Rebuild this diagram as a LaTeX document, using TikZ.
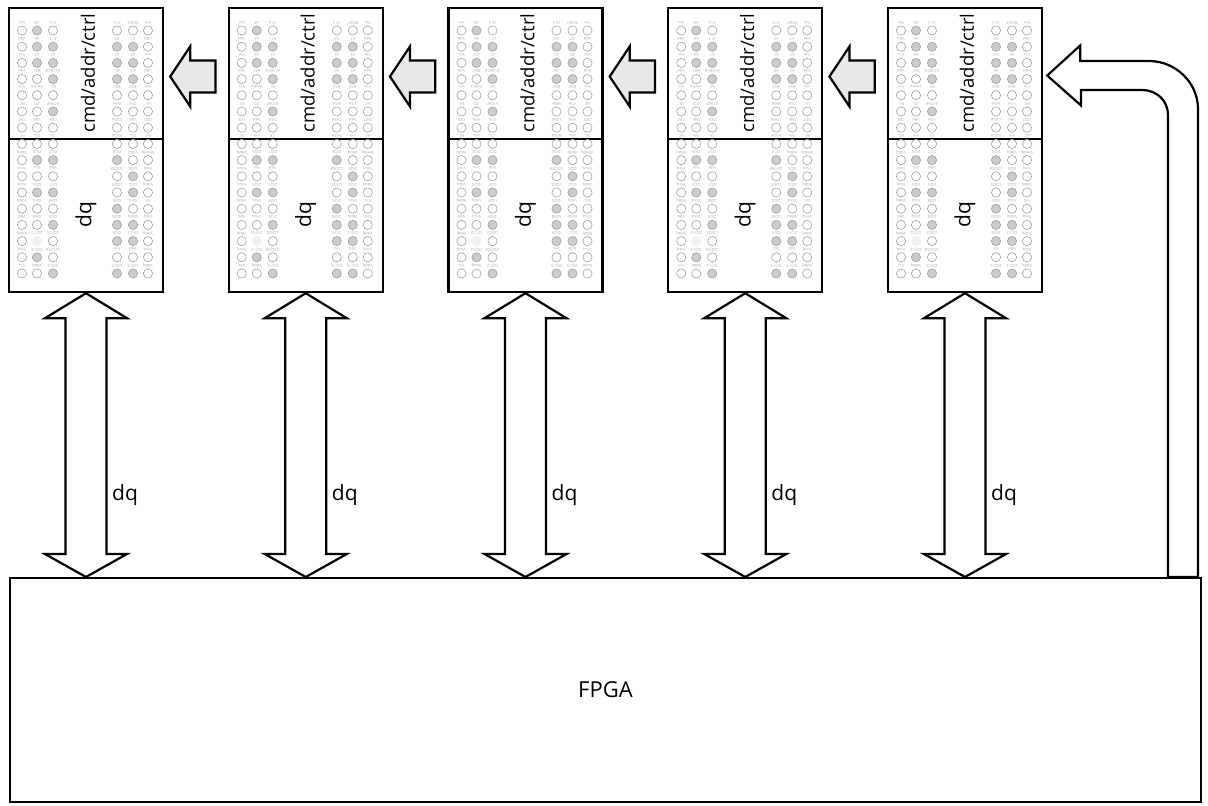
\documentclass[tikz,border=0pt]{standalone}
\usepackage{fontspec}
\setmainfont{Open Sans}
\usetikzlibrary{calc}

\tikzset{
  chipbox/.style={draw, line width=2.4pt, minimum width=154pt, minimum height=284pt, inner sep=0pt},
  fpgabox/.style={draw, line width=2pt, minimum width=1191pt, minimum height=224pt, inner sep=0pt, font=\fontsize{22}{26}\selectfont},
  pinlabel/.style={rotate=180, font=\fontsize{4}{4}\selectfont, text=gray!65, inner sep=0pt},
  bigtext/.style={font=\fontsize{18.5}{22}\selectfont, inner sep=0pt},
  dqtext/.style={font=\fontsize{21}{24}\selectfont, inner sep=0pt},
  fatarrow/.style={draw, line width=2.2pt, fill=white, line join=miter},
  grayarrow/.style={draw, line width=2.2pt, fill=gray!18, line join=miter},
  bw/.style={draw=gray!75, line width=0.6pt, fill=white},
  bg/.style={draw=gray!75, line width=0.6pt, fill=gray!40},
  bl/.style={draw=gray!12, line width=0.6pt, fill=gray!12},
}

% one row of balls, #1 = row, #2 = label/fill list
\newcommand{\ballrow}[2]{%
  \foreach \lab/\st [count=\k] in {#2} {
    \pgfmathsetmacro{\bx}{{22,37,53,117,133,148}[\k-1]}
    \pgfmathsetmacro{\by}{30.5+16.2*#1}
    \draw[b\st] (\bx,\by) circle (4.6pt);
    \node[pinlabel] (p-#1-\k) at (\bx,\by-8) {\lab};
  }
}

\newcommand{\ballgrid}{%
  \ballrow{0}{Vss/w,A8/g,A14/w,A13/w,RESET/w,Vss/w}
  \ballrow{1}{Vdd/w,A6/g,A11/g,A9/g,A7/g,Vdd/w}
  \ballrow{2}{Vss/w,A4/g,A1/g,A2/g,A5/g,Vss/w}
  \ballrow{3}{Vdd/w,BA1/w,A12BC\#/g,A0/g,A3/g,Vdd/w}
  \ballrow{4}{Vss/w,Vrefca/w,NC/w,BA2/w,BA0/w,Vss/w}
  \ballrow{5}{NC/w,ZQ/w,A10AP/g,WE\#/w,CS\#/w,NC/w}
  \ballrow{6}{CKE/w,Vdd/w,CK\#/w,CAS\#/w,Vdd/w,ODT/w}
  \ballrow{7}{NC/w,Vss/w,CK/w,RAS\#/w,Vss/w,NC/w}
  \ballrow{8}{Vddq/w,DQ5/g,DQ7/g,DQ4/g,Vddq/w,Vrefdq/w}
  \ballrow{9}{Vssq/w,Vss/w,Vdd/w,LDQS\#/w,DQ6/g,Vssq/w}
  \ballrow{10}{Vssq/w,DQ3/g,DQ1/g,LDQS/w,DQ2/g,Vddq/w}
  \ballrow{11}{Vddq/w,Vssq/w,LDM/w,DQ0/g,Vssq/w,Vss/w}
  \ballrow{12}{Vdd/w,Vssq/w,DQ8/g,UDM/g,Vddq/g,Vssq/w}
  \ballrow{13}{Vddq/w,DQ10/l,UDQS/w,DQ9/g,DQ11/g,Vddq/w}
  \ballrow{14}{Vssq/w,DQ14/g,UDQS\#/w,Vss/w,Vdd/w,Vssq/w}
  \ballrow{15}{Vss/w,Vddq/w,DQ12/g,DQ15/g,DQ13/g,Vddq/w}
}

% fat double arrow from chip #1 down to the fpga
\newcommand{\dqarrow}[1]{%
  \draw[fatarrow] (#1.south) -- ++(41,25) -- ++(-20.5,0)
    -- ($(#1.south |- fpga.north)+(20.5,-23)$) -- ++(20.5,0)
    -- (#1.south |- fpga.north) -- ++(-41,-23) -- ++(20.5,0)
    -- ($(#1.south)+(-20.5,25)$) -- ++(-20.5,0) -- cycle;
  \node[dqtext, anchor=west] (q#1) at ($(#1.south)+(26,202)$) {dq};
}

\begin{document}
\begin{tikzpicture}[x=1pt, y=-1pt]
\useasboundingbox (0,0) rectangle (1208,806);

\node[fpgabox] (fpga) at (605.5,690) {FPGA};

\begin{scope}
\node[chipbox] (m1) at (86,150) {};
\draw[line width=2.4pt] (m1.west |- 0,139) -- (m1.east |- 0,139);
\ballgrid
\node[bigtext, rotate=90] (c1) at (88,73) {cmd/addr/ctrl};
\node[dqtext, rotate=90] (d1) at (86,215) {dq};
\end{scope}

\begin{scope}[xshift=219.75pt]
\node[chipbox] (m2) at (86,150) {};
\draw[line width=2.4pt] (m2.west |- 0,139) -- (m2.east |- 0,139);
\ballgrid
\node[bigtext, rotate=90] (c2) at (88,73) {cmd/addr/ctrl};
\node[dqtext, rotate=90] (d2) at (86,215) {dq};
\end{scope}

\begin{scope}[xshift=439.5pt]
\node[chipbox] (m3) at (86,150) {};
\draw[line width=2.4pt] (m3.west |- 0,139) -- (m3.east |- 0,139);
\ballgrid
\node[bigtext, rotate=90] (c3) at (88,73) {cmd/addr/ctrl};
\node[dqtext, rotate=90] (d3) at (86,215) {dq};
\end{scope}

\begin{scope}[xshift=659.25pt]
\node[chipbox] (m4) at (86,150) {};
\draw[line width=2.4pt] (m4.west |- 0,139) -- (m4.east |- 0,139);
\ballgrid
\node[bigtext, rotate=90] (c4) at (88,73) {cmd/addr/ctrl};
\node[dqtext, rotate=90] (d4) at (86,215) {dq};
\end{scope}

\begin{scope}[xshift=879pt]
\node[chipbox] (m5) at (86,150) {};
\draw[line width=2.4pt] (m5.west |- 0,139) -- (m5.east |- 0,139);
\ballgrid
\node[bigtext, rotate=90] (c5) at (88,73) {cmd/addr/ctrl};
\node[dqtext, rotate=90] (d5) at (86,215) {dq};
\end{scope}

% dq buses
\dqarrow{m1}
\dqarrow{m2}
\dqarrow{m3}
\dqarrow{m4}
\dqarrow{m5}

% cmd/addr/ctrl passed from chip to chip
\draw[grayarrow] ($(m1.east)+(6,-73.5)$) -- ++(20,-30) -- ++(0,14) -| ($(m2.west)+(-12,-57.5)$) -| ($(m1.east)+(26,-43.5)$) -- cycle;
\draw[grayarrow] ($(m2.east)+(6,-73.5)$) -- ++(20,-30) -- ++(0,14) -| ($(m3.west)+(-12,-57.5)$) -| ($(m2.east)+(26,-43.5)$) -- cycle;
\draw[grayarrow] ($(m3.east)+(6,-73.5)$) -- ++(20,-30) -- ++(0,14) -| ($(m4.west)+(-12,-57.5)$) -| ($(m3.east)+(26,-43.5)$) -- cycle;
\draw[grayarrow] ($(m4.east)+(6,-73.5)$) -- ++(20,-30) -- ++(0,14) -| ($(m5.west)+(-12,-57.5)$) -| ($(m4.east)+(26,-43.5)$) -- cycle;

% from the fpga up and round to the last chip
\draw[fatarrow] ($(m5.east)+(4,-74.5)$) -- ++(33,-30) -- ++(0,15.5) -- (1149,61)
  .. controls (1175.5,61) and (1198,82.5) .. (1198,109)
  -- ($(fpga.north east)+(-4,0)$) -- ($(fpga.north east)+(-34,0)$)
  -- (1168,115) .. controls (1168,101) and (1157,90) .. (1142,90)
  -- (1081,90) -- (1081,105.5) -- cycle;
\end{tikzpicture}
\end{document}
